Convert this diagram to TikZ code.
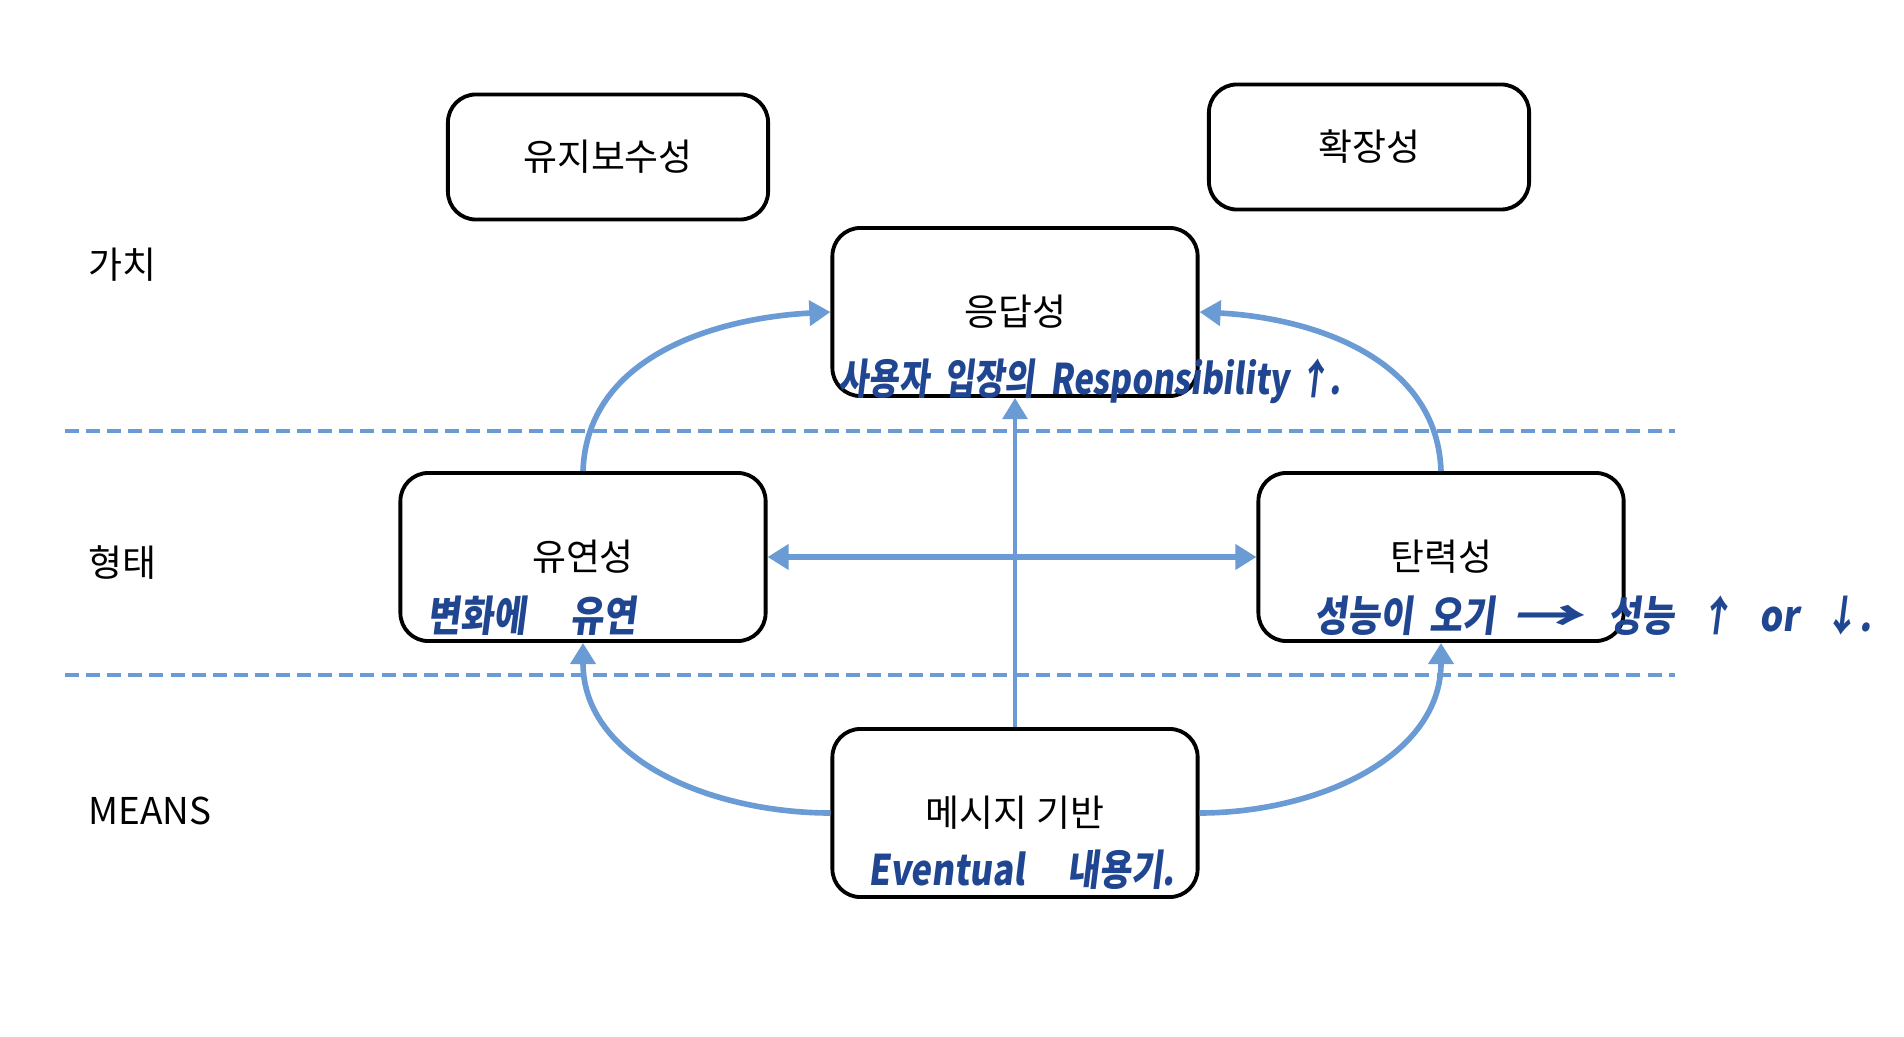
\documentclass[tikz,border=0pt]{standalone}
\usepackage{fontspec}
\setmainfont{Noto Sans CJK KR}
\newfontfamily\penfont[FakeSlant=0.15]{Noto Sans CJK KR}
\usetikzlibrary{arrows.meta}
\definecolor{flowblue}{RGB}{106,155,212}
\definecolor{penblue}{RGB}{32,70,146}
\tikzset{
  box/.style={draw,line width=1.1pt,rounded corners=0.28cm,minimum width=3.65cm,minimum height=1.68cm,font=\fontsize{10.5}{12}\selectfont},
  topbox/.style={box,minimum width=3.2cm,minimum height=1.25cm},
  flow/.style={draw=flowblue,line width=1.6pt,-{Triangle[length=6pt,width=7pt]}},
  divider/.style={draw=flowblue,line width=1pt,dash pattern=on 4pt off 2pt},
  pen/.style={text=penblue,inner sep=0pt,font=\penfont\bfseries\fontsize{12}{14}\selectfont},
  band/.style={anchor=west,font=\fontsize{10.5}{12}\selectfont}
}

\begin{document}
\begin{tikzpicture}[x=0.01cm,y=0.01cm]
        \useasboundingbox (0,0) rectangle (1904,1036);
        % Top row
        \node[topbox] (maint) at (608,879) {유지보수성};
        \node[topbox] (ext) at (1369,889) {확장성};

        % Main boxes
        \node[box] (resp) at (1015,724) {응답성};
        \node[box] (flex) at (583,479) {유연성};
        \node[box] (elast) at (1441,479) {탄력성};
        \node[box] (msg) at (1015,223) {메시지 기반};

        % Row labels
        \node[band] (val) at (76,771) {가치};
        \node[band] (form) at (76,473) {형태};
        \node[band] (means) at (76,225) {MEANS};

        % Dividers
        \coordinate (d1w) at (65,605);
        \coordinate (d1e) at (1675,605);
        \coordinate (d2w) at (65,361);
        \coordinate (d2e) at (1675,361);
        \draw[divider] (d1w) -- (d1e);
        \draw[divider] (d2w) -- (d2e);

        % Arrows
        \draw[flow] (flex.north) to[out=88,in=183] (resp.west);
        \draw[flow] (elast.north) to[out=92,in=-3] (resp.east);
        \draw[flow,line width=1.2pt] (msg.north) -- (resp.south);
        \draw[flow,line width=1.8pt,{Triangle[length=6pt,width=7pt]}-{Triangle[length=6pt,width=7pt]}] (flex.east) -- (elast.west);
        \draw[flow] (msg.west) to[out=180,in=-90] (flex.south);
        \draw[flow] (msg.east) to[out=0,in=-90] (elast.south);

        % Handwritten notes
        \node[pen] (respnote) at (1090,655) {\scalebox{0.78}[1]{사용자 \ 입장의 \ Responsibility ↑.}};
        \node[pen] (flexnote) at (532,420) {\scalebox{0.85}[1]{변화에 \quad 유연}};
        \node[pen] (elastnote) at (1593,420) {\scalebox{0.85}[1]{성능이 \ 오기 \ \scalebox{2}[1]{→} \ \ 성능 \ \ ↑ \ \ or \ \ ↓.}};
        \node[pen] (msgnote) at (1022,166) {\scalebox{0.82}[1]{Eventual \quad 내용기.}};
\end{tikzpicture}
\end{document}
